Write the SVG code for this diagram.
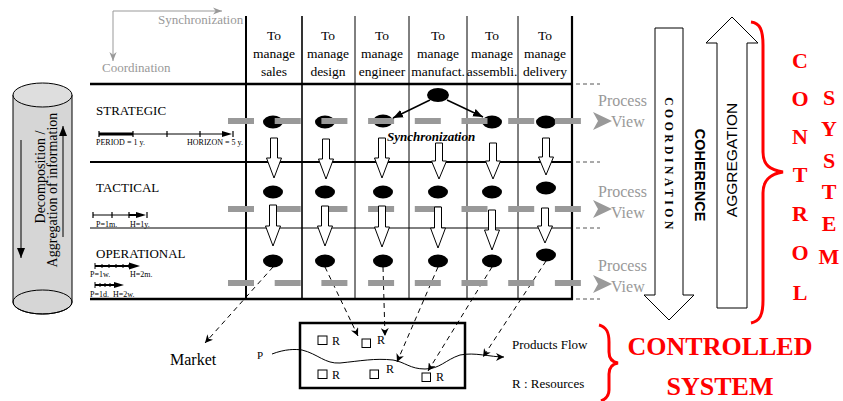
<svg xmlns="http://www.w3.org/2000/svg" width="843" height="401" viewBox="0 0 843 401">
<style>
.s{font-family:"Liberation Serif","Times New Roman",serif}
.a{font-family:"Liberation Sans",Arial,sans-serif}
.hd{font-size:13.5px;text-anchor:middle}
.lv{font-size:13px}
.sm{font-size:8px}
.gt{fill:#999}
.pv{font-size:16px;fill:#999}
.bar{stroke:#999;stroke-width:6;stroke-dasharray:26 20.7;fill:none}
.el{fill:#000}
.ha{fill:#fff;stroke:#000;stroke-width:1}
.dl{stroke:#000;stroke-width:1;stroke-dasharray:5 4;fill:none;marker-end:url(#ah)}
.red{fill:#f00;font-weight:bold;font-size:22px;text-anchor:middle}
.br{fill:none;stroke:#f00;stroke-width:3}
.ext{stroke:#555;stroke-width:1;stroke-dasharray:4 3}
.R{font-size:12px}
</style>
<defs>
<marker id="ah" viewBox="0 0 10 10" refX="10" refY="5" markerWidth="8" markerHeight="8" orient="auto" markerUnits="userSpaceOnUse"><path d="M0,0 L10,5 L0,10 L3,5 Z" fill="#000"/></marker>
<marker id="ahb" viewBox="0 0 10 10" refX="10" refY="5" markerWidth="10" markerHeight="10" orient="auto" markerUnits="userSpaceOnUse"><path d="M0,1 L10,5 L0,9 Z" fill="#000"/></marker>
<marker id="ahg" viewBox="0 0 10 10" refX="10" refY="5" markerWidth="9" markerHeight="9" orient="auto" markerUnits="userSpaceOnUse"><path d="M0,1 L10,5 L0,9 L3,5 Z" fill="#999"/></marker>
<polygon id="pvchev" points="0,-9 19,0 0,9 5,0" fill="#999"/>
</defs>
<rect width="843" height="401" fill="#fff"/>

<!-- axes legend -->
<g id="axes">
<line x1="113" y1="11" x2="222" y2="11" stroke="#999" stroke-width="1" marker-end="url(#ahg)"/>
<line x1="113" y1="11" x2="113" y2="61" stroke="#999" stroke-width="1" marker-end="url(#ahg)"/>
<text class="s gt" x="158" y="24" font-size="13">Synchronization</text>
<text class="s gt" x="102" y="72" font-size="13">Coordination</text>
</g>

<!-- cylinder -->
<g id="cylinder">
<path d="M13,95 L13,302 A29.5,12 0 0 0 72,302 L72,95 Z" fill="#d6d6d6" stroke="#000" stroke-width="1"/>
<ellipse cx="42.5" cy="302" rx="29.5" ry="12" fill="none" stroke="#000" stroke-width="1"/>
<ellipse cx="42.5" cy="95" rx="29.5" ry="12" fill="#dedede" stroke="#000" stroke-width="1"/>
<line x1="21" y1="140" x2="21" y2="258" stroke="#000" stroke-width="1" marker-end="url(#ahb)"/>
<line x1="63" y1="237" x2="63" y2="126" stroke="#000" stroke-width="1" marker-end="url(#ahb)"/>
<text class="s" font-size="14" text-anchor="middle" transform="translate(45,177) rotate(-90)">Decomposition /</text>
<text class="s" font-size="14" text-anchor="middle" transform="translate(57,190) rotate(-90)">Aggregation of information</text>
</g>

<!-- table grid -->
<g id="table">
<line x1="246" y1="16" x2="246" y2="299" stroke="#000" stroke-width="2"/>
<line x1="302" y1="16" x2="302" y2="299" stroke="#000" stroke-width="1.6"/>
<line x1="355" y1="16" x2="355" y2="299" stroke="#000" stroke-width="1"/>
<line x1="409" y1="16" x2="409" y2="299" stroke="#000" stroke-width="1"/>
<line x1="467" y1="16" x2="467" y2="299" stroke="#000" stroke-width="1"/>
<line x1="518" y1="16" x2="518" y2="299" stroke="#000" stroke-width="1"/>
<line x1="572" y1="16" x2="572" y2="300" stroke="#000" stroke-width="2.2"/>
<line x1="90" y1="84" x2="573" y2="84" stroke="#000" stroke-width="2.5"/>
<line x1="90" y1="162" x2="573" y2="162" stroke="#000" stroke-width="2"/>
<line x1="90" y1="228" x2="573" y2="228" stroke="#000" stroke-width="1"/>
<line x1="90" y1="299" x2="573" y2="299" stroke="#000" stroke-width="2.5"/>
<line class="ext" x1="576" y1="84" x2="600" y2="84"/>
<line class="ext" x1="576" y1="162" x2="600" y2="162"/>
<line class="ext" x1="576" y1="228" x2="600" y2="228"/>
<line class="ext" x1="576" y1="299" x2="600" y2="299"/>
</g>

<!-- headers -->
<g id="headers" class="s hd">
<text x="274" y="40">To</text><text x="274" y="58">manage</text><text x="274" y="76">sales</text>
<text x="328" y="40">To</text><text x="328" y="58">manage</text><text x="328" y="76">design</text>
<text x="382" y="40">To</text><text x="382" y="58">manage</text><text x="382" y="76">engineer</text>
<text x="438" y="40">To</text><text x="438" y="58">manage</text><text x="438" y="76">manufact.</text>
<text x="492" y="40">To</text><text x="492" y="58">manage</text><text x="492" y="76">assembli.</text>
<text x="545" y="40">To</text><text x="545" y="58">manage</text><text x="545" y="76">delivery</text>
</g>

<!-- levels -->
<g id="strategic-label">
<text class="s lv" x="96" y="115">STRATEGIC</text>
<line x1="99" y1="134" x2="226" y2="134" stroke="#000" stroke-width="1"/>
<line x1="99" y1="134" x2="133" y2="134" stroke="#000" stroke-width="3"/>
<path d="M99,131v6M133,131v6M167,131v6M200,131v6M233,131v6" stroke="#000" stroke-width="1.2"/>
<polygon points="222,131 232,134 222,137" fill="#000"/>
<text class="s sm" x="96" y="145">PERIOD = 1 y.</text>
<text class="s sm" x="187" y="145">HORIZON = 5 y.</text>
</g>
<g id="tactical-label">
<text class="s lv" x="96" y="192">TACTICAL</text>
<line x1="93" y1="215" x2="138" y2="215" stroke="#000" stroke-width="1"/>
<line x1="129" y1="215" x2="138" y2="215" stroke="#000" stroke-width="2"/>
<path d="M93,212v6M112,212v6M129,212v6M147,212v6" stroke="#000" stroke-width="1.2"/>
<polygon points="136,212 146,215 136,218" fill="#000"/>
<text class="s sm" x="96" y="227">P=1m.</text>
<text class="s sm" x="130" y="227">H=1y.</text>
</g>
<g id="operational-label">
<text class="s lv" x="96" y="258">OPERATIONAL</text>
<line x1="95" y1="266" x2="130" y2="266" stroke="#000" stroke-width="2"/>
<path d="M95,263v6M102,264v4M109,264v4M116,264v4M123,264v4M129,264v4" stroke="#000" stroke-width="1"/>
<polygon points="129,262.5 140,266 129,269.5" fill="#000"/>
<text class="s sm" x="90" y="277">P=1w.</text>
<text class="s sm" x="130" y="277">H=2m.</text>
<line x1="95" y1="285" x2="116" y2="285" stroke="#000" stroke-width="2"/>
<path d="M95,282v6M100,283v4M105,283v4M110,283v4M115,283v4" stroke="#000" stroke-width="1"/>
<polygon points="114,282 124,285 114,288" fill="#000"/>
<text class="s sm" x="90" y="297">P=1d.</text>
<text class="s sm" x="113" y="297">H=2w.</text>
</g>

<!-- nodes strategic -->
<g id="s-top"><ellipse class="el" cx="438" cy="95" rx="11" ry="7"/></g>
<g id="s-sales"><ellipse class="el" cx="273" cy="122" rx="10" ry="6.5"/></g>
<g id="s-design"><ellipse class="el" cx="325" cy="122" rx="10" ry="6.5"/></g>
<g id="s-engineer"><ellipse class="el" cx="383" cy="121" rx="10" ry="6.5"/></g>
<g id="s-assembli"><ellipse class="el" cx="492" cy="122" rx="10" ry="6.5"/></g>
<g id="s-delivery"><ellipse class="el" cx="546" cy="122" rx="10" ry="6.5"/></g>
<line class="bar" x1="228" y1="121" x2="582" y2="121"/>

<!-- nodes tactical -->
<g id="t-sales"><ellipse class="el" cx="273" cy="192" rx="10" ry="6.5"/></g>
<g id="t-design"><ellipse class="el" cx="325" cy="192" rx="10" ry="6.5"/></g>
<g id="t-engineer"><ellipse class="el" cx="383" cy="192" rx="10" ry="6.5"/></g>
<g id="t-manufact"><ellipse class="el" cx="438" cy="192" rx="10" ry="6.5"/></g>
<g id="t-assembli"><ellipse class="el" cx="492" cy="192" rx="10" ry="6.5"/></g>
<g id="t-delivery"><ellipse class="el" cx="546" cy="188" rx="10" ry="6.5"/></g>
<line class="bar" x1="228" y1="209" x2="582" y2="209"/>

<!-- nodes operational -->
<g id="o-sales"><ellipse class="el" cx="273" cy="261" rx="10" ry="6.5"/></g>
<g id="o-design"><ellipse class="el" cx="325" cy="261" rx="10" ry="6.5"/></g>
<g id="o-engineer"><ellipse class="el" cx="383" cy="261" rx="10" ry="6.5"/></g>
<g id="o-manufact"><ellipse class="el" cx="438" cy="261" rx="10" ry="6.5"/></g>
<g id="o-assembli"><ellipse class="el" cx="492" cy="261" rx="10" ry="6.5"/></g>
<g id="o-delivery"><ellipse class="el" cx="546" cy="255" rx="10" ry="6.5"/></g>

<!-- process views -->
<g id="pv-strategic"><use href="#pvchev" x="593" y="121"/><text class="s pv" x="598" y="106">Process</text><text class="s pv" x="611" y="127">View</text></g>
<g id="pv-tactical"><use href="#pvchev" x="593" y="209"/><text class="s pv" x="598" y="197">Process</text><text class="s pv" x="611" y="218">View</text></g>
<g id="pv-operational"><use href="#pvchev" x="593" y="284"/><text class="s pv" x="598" y="271">Process</text><text class="s pv" x="611" y="292">View</text></g>

<!-- connectors -->
<g id="connectors">
<line x1="430" y1="100" x2="393" y2="118" stroke="#000" stroke-width="1.5" marker-end="url(#ahb)"/>
<line x1="447" y1="100" x2="483" y2="117" stroke="#000" stroke-width="1.5" marker-end="url(#ahb)"/>
<polygon class="ha" points="270.5,138 277.5,138 277.5,158 281.5,158 274,178 266.5,158 270.5,158"/>
<polygon class="ha" points="322.5,139 329.5,139 329.5,159 333.5,159 326,179 318.5,159 322.5,159"/>
<polygon class="ha" points="378.5,138 385.5,138 385.5,158 389.5,158 382,178 374.5,158 378.5,158"/>
<polygon class="ha" points="435.5,143 442.5,143 442.5,161 446.5,161 439,179 431.5,161 435.5,161"/>
<polygon class="ha" points="489.5,143 496.5,143 496.5,161 500.5,161 493,179 485.5,161 489.5,161"/>
<polygon class="ha" points="542.5,138 549.5,138 549.5,157 553.5,157 546,175 538.5,157 542.5,157"/>
<polygon class="ha" points="269.5,205 276.5,205 276.5,226 280.5,226 273,246 265.5,226 269.5,226"/>
<polygon class="ha" points="321.5,206 328.5,206 328.5,226 332.5,226 325,246 317.5,226 321.5,226"/>
<polygon class="ha" points="378.5,206 385.5,206 385.5,227 389.5,227 382,247 374.5,227 378.5,227"/>
<polygon class="ha" points="434.5,207 441.5,207 441.5,228 445.5,228 438,248 430.5,228 434.5,228"/>
<polygon class="ha" points="488.5,210 495.5,210 495.5,230 499.5,230 492,250 484.5,230 488.5,230"/>
<polygon class="ha" points="541.5,208 548.5,208 548.5,226 552.5,226 545,243 537.5,226 541.5,226"/>
<path class="dl" d="M273,267 L205,343"/>
<path class="dl" d="M325,267 L358,336"/>
<path class="dl" d="M383,267 L385,336"/>
<path class="dl" d="M438,267 L397,362"/>
<path class="dl" d="M492,267 L428,371"/>
<path class="dl" d="M546,261 L483,357"/>
<path d="M272,354 C285,349 295,349 302,350 C318,354 325,364 340,363 C360,361 375,358 393,360 C405,362 410,369 425,369 C440,369 445,360 460,355 C475,352 490,357 504,357" fill="none" stroke="#000" stroke-width="1" marker-end="url(#ah)"/>
</g>
<line class="bar" x1="228" y1="283" x2="582" y2="283"/>

<text class="s" x="387" y="141" font-size="13" font-weight="bold" font-style="italic">Synchronization</text>

<!-- controlled system box -->
<g id="system">
<rect x="300" y="323" width="165" height="65" fill="none" stroke="#000" stroke-width="2.5"/>
<rect x="318" y="336" width="9" height="8.5" fill="#fff" stroke="#000" stroke-width="1"/><text class="s R" x="332" y="345">R</text>
<rect x="362" y="339" width="8.5" height="8.5" fill="#fff" stroke="#000" stroke-width="1"/><text class="s R" x="377" y="344">R</text>
<rect x="318" y="370" width="9" height="8.5" fill="#fff" stroke="#000" stroke-width="1"/><text class="s R" x="332" y="379">R</text>
<rect x="370" y="370" width="8.5" height="8.5" fill="#fff" stroke="#000" stroke-width="1"/><text class="s R" x="386" y="373">R</text>
<rect x="422" y="373" width="8.5" height="8.5" fill="#fff" stroke="#000" stroke-width="1"/><text class="s R" x="436" y="381">R</text>
</g>
<text class="s" x="257" y="359" font-size="11">P</text>
<g id="market"><text class="s" x="170" y="365" font-size="16">Market</text></g>
<text class="s" x="512" y="349" font-size="13">Products Flow</text>
<text class="s" x="512" y="388" font-size="13">R : Resources</text>

<!-- right arrows -->
<g id="coordination">
<polygon points="655,28 683,28 683,295 694,295 669,320 644,295 655,295" fill="#fff" stroke="#000" stroke-width="1"/>
<text class="s" font-size="11.5" font-weight="bold" letter-spacing="3.6" text-anchor="middle" transform="translate(665,165) rotate(90)">COORDINATION</text>
</g>
<g id="coherence">
<text class="a" font-size="14.5" font-weight="bold" text-anchor="middle" transform="translate(695,175) rotate(90)">COHERENCE</text>
</g>
<g id="aggregation">
<polygon points="717,308 747,308 747,43 758,43 732,17 706,43 717,43" fill="#fff" stroke="#000" stroke-width="1"/>
<text class="a" font-size="15.5" text-anchor="middle" transform="translate(737,160) rotate(-90)">AGGREGATION</text>
</g>

<!-- control system -->
<g id="control-system">
<path class="br" d="M751,22 C760,23 763,30 763,45 L763,152 C763,165 770,170 783,172 C770,174 763,180 763,193 L763,300 C763,315 760,321 751,323"/>
<text class="s red" x="800" y="68">C</text>
<text class="s red" x="800" y="106">O</text>
<text class="s red" x="800" y="144">N</text>
<text class="s red" x="800" y="182">T</text>
<text class="s red" x="800" y="221">R</text>
<text class="s red" x="800" y="260">O</text>
<text class="s red" x="800" y="300">L</text>
<text class="s red" x="829" y="105">S</text>
<text class="s red" x="829" y="136">Y</text>
<text class="s red" x="829" y="168">S</text>
<text class="s red" x="829" y="199">T</text>
<text class="s red" x="829" y="231">E</text>
<text class="s red" x="829" y="264">M</text>
</g>
<g id="controlled-system">
<path class="br" d="M599,325 C607,327 609,333 609,342 L609,352 C609,358 612,362 618,363 C612,364 609,368 609,374 L609,390 C609,396 606,399 601,401"/>
<text class="s" x="720" y="355" font-size="26" font-weight="bold" fill="#f00" text-anchor="middle">CONTROLLED</text>
<text class="s" x="720" y="395" font-size="26" font-weight="bold" fill="#f00" text-anchor="middle">SYSTEM</text>
</g>
</svg>
